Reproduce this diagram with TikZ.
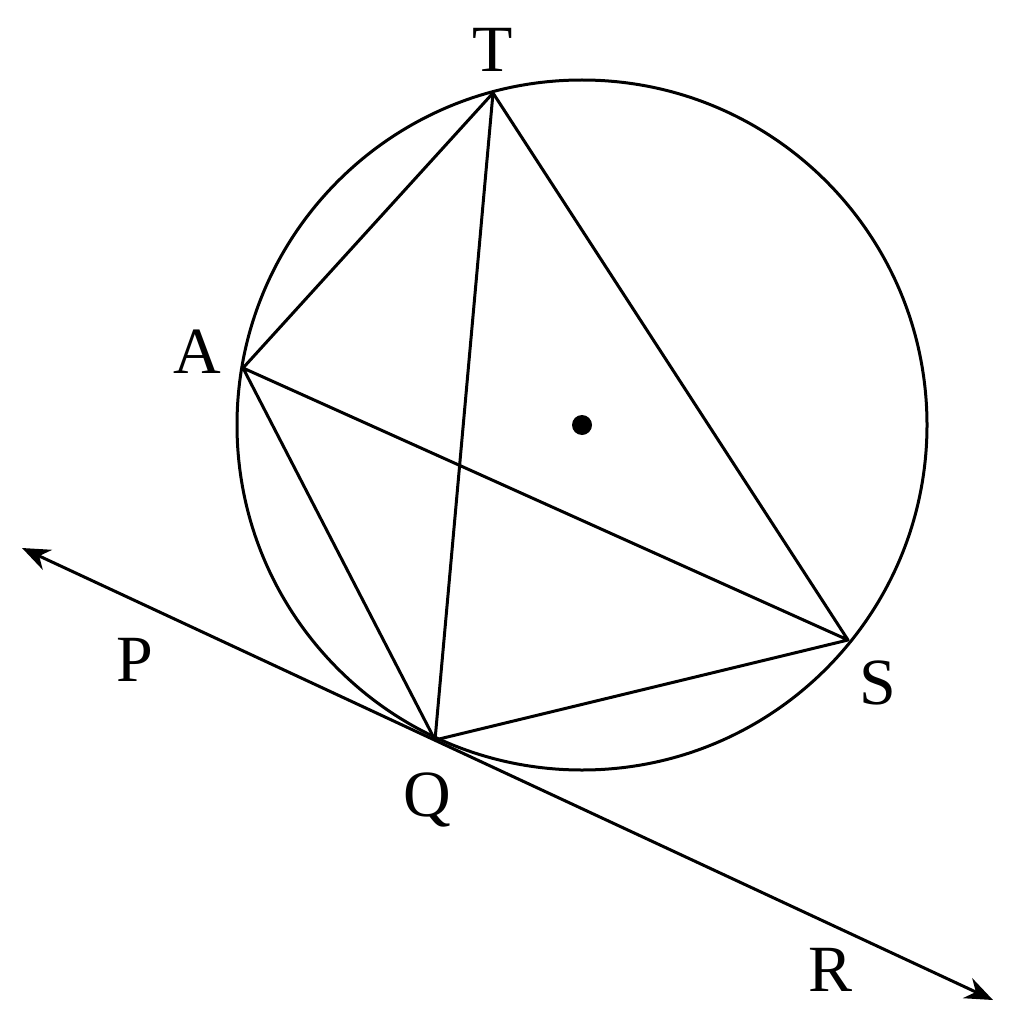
\documentclass[tikz,border=0pt]{standalone}
\usepackage{fontspec}
\setmainfont{Liberation Serif}
\usetikzlibrary{arrows.meta}
\begin{document}
\begin{tikzpicture}[x=1pt,y=-1pt,line width=3pt,
  lbl/.style={font=\fontsize{66}{66}\selectfont,inner sep=0pt}]
\useasboundingbox (0,0) rectangle (1013,1024);
\coordinate (O) at (582,425);
\coordinate (T) at (493,93);
\coordinate (A) at (243,368);
\coordinate (S) at (848,640);
\coordinate (Q) at (435,740);
\coordinate (P) at (22,548);
\coordinate (R) at (993,1000);
\draw (O) circle[radius=345pt];
\fill (O) circle[radius=10pt];
\draw[line join=round] (A) -- (T) -- (S) -- (Q) -- (A) -- (S);
\draw (T) -- (Q);
\draw[{Stealth[length=28pt,width=22pt]}-{Stealth[length=28pt,width=22pt]}] (P) -- (R);
\node[lbl] (lT) at (493,50) {T};
\node[lbl] (lA) at (197,352) {A};
\node[lbl] (lP) at (135,660) {P};
\node[lbl] (lS) at (878,683) {S};
\node[lbl] (lQ) at (427,800) {Q};
\node[lbl] (lR) at (830,970) {R};
\end{tikzpicture}
\end{document}
